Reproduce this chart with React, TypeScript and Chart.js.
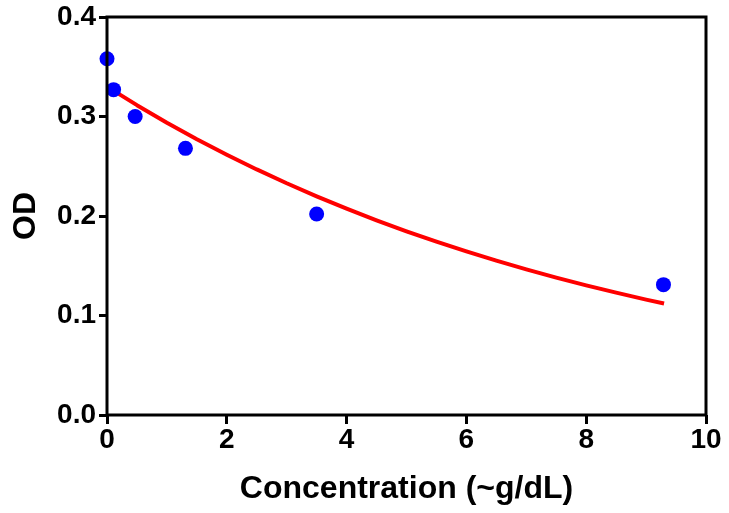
import React, { useEffect, useRef } from "react";
import { Chart, registerables } from "chart.js";

Chart.register(...registerables);

const pointX = [0, 0.11, 0.47, 1.31, 3.5, 9.29];
const pointY = [0.358, 0.327, 0.3, 0.268, 0.202, 0.131];

const curveX = [0, 0.5, 1, 1.5, 2, 2.5, 3, 3.5, 4, 4.5, 5, 5.5, 6, 6.5, 7, 7.5, 8, 8.5, 9, 9.3];
const curveY = [0.33, 0.3114, 0.2938, 0.2772, 0.2616, 0.2468, 0.2329, 0.2198, 0.2074, 0.1957, 0.1846, 0.1742, 0.1644, 0.1551, 0.1464, 0.1381, 0.1303, 0.1230, 0.1160, 0.1121];

const xTicks = [0, 2, 4, 6, 8, 10];
const yTicks = [0, 0.1, 0.2, 0.3, 0.4];

const xTitle = "Concentration (~g/dL)";
const yTitle = "OD";

const FONT = "'Liberation Sans', Arial, sans-serif";

const framePlugin = {
  id: "frame",
  afterDatasetsDraw(chart: any) {
    const { ctx, chartArea } = chart;
    ctx.save();
    ctx.strokeStyle = "#000";
    ctx.lineWidth = 3;
    ctx.strokeRect(chartArea.left, chartArea.top, chartArea.right - chartArea.left, chartArea.bottom - chartArea.top);
    ctx.restore();
  },
};

export default function App() {
  const ref = useRef<HTMLCanvasElement>(null);

  useEffect(() => {
    document.body.style.margin = "0";
    const chart = new Chart(ref.current!, {
      type: "scatter",
      data: {
        datasets: [
          {
            type: "line",
            data: curveX.map((x, i) => ({ x, y: curveY[i] })),
            borderColor: "#ff0000",
            borderWidth: 4,
            pointRadius: 0,
            tension: 0,
            borderJoinStyle: "round",
            fill: false,
            order: 2,
          },
          {
            data: pointX.map((x, i) => ({ x, y: pointY[i] })),
            backgroundColor: "#0000ff",
            borderColor: "#0000ff",
            pointRadius: 7.5,
            borderWidth: 0,
            order: 1,
          },
        ],
      },
      options: {
        animation: false,
        responsive: false,
        clip: false,
        layout: { padding: { top: 17, right: 23, left: 0, bottom: 0 } },
        plugins: { legend: { display: false }, tooltip: { enabled: false } },
        scales: {
          x: {
            type: "linear",
            min: 0,
            max: 10,
            afterBuildTicks: (s: any) => {
              s.ticks = xTicks.map((v) => ({ value: v }));
            },
            afterFit: (s: any) => {
              s.height = 98;
            },
            border: { display: false },
            grid: { drawOnChartArea: false, drawTicks: true, tickLength: 9, tickWidth: 3, color: "#000" },
            ticks: {
              color: "#000",
              padding: 2,
              maxRotation: 0,
              font: { family: FONT, size: 28, weight: "bold", lineHeight: 1 },
              callback: (v: any) => String(v),
            },
            title: {
              display: true,
              text: xTitle,
              color: "#000",
              font: { family: FONT, size: 32, weight: "bold" },
              padding: { top: 0, bottom: 5 },
            },
          },
          y: {
            type: "linear",
            min: 0,
            max: 0.4,
            afterBuildTicks: (s: any) => {
              s.ticks = yTicks.map((v) => ({ value: v }));
            },
            afterFit: (s: any) => {
              s.width = 107;
            },
            border: { display: false },
            grid: { drawOnChartArea: false, drawTicks: true, tickLength: 8, tickWidth: 3, color: "#000" },
            ticks: {
              color: "#000",
              padding: 3,
              font: { family: FONT, size: 28, weight: "bold", lineHeight: 1 },
              callback: (v: any) => Number(v).toFixed(1),
            },
            title: {
              display: true,
              text: yTitle,
              color: "#000",
              font: { family: FONT, size: 32, weight: "bold" },
              padding: { top: 7, bottom: 0 },
            },
          },
        },
      },
      plugins: [framePlugin],
    } as any);
    return () => chart.destroy();
  }, []);

  return (
    <div style={{ position: "fixed", left: 0, top: 0, width: 729, height: 513, background: "#fff" }}>
      <canvas ref={ref} width={729} height={513} />
    </div>
  );
}
